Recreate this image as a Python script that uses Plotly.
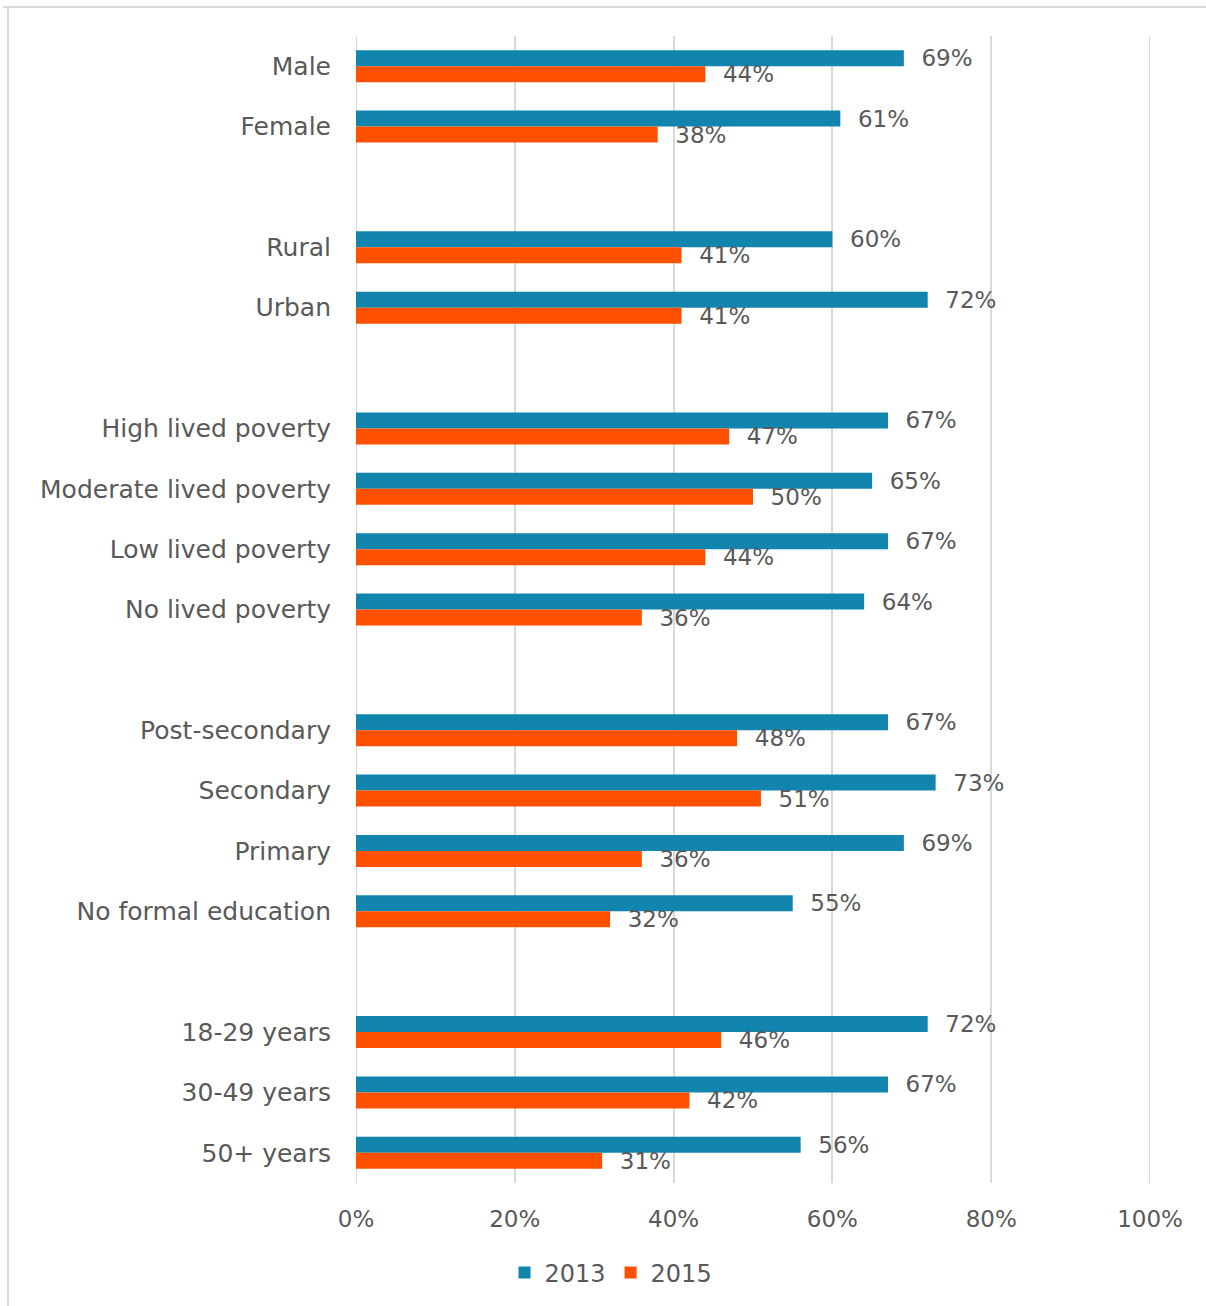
import plotly.graph_objects as go

groups = [
    ["Male", "Female"],
    ["Rural", "Urban"],
    ["High lived poverty", "Moderate lived poverty", "Low lived poverty", "No lived poverty"],
    ["Post-secondary", "Secondary", "Primary", "No formal education"],
    ["18-29 years", "30-49 years", "50+ years"],
]
vals_2013 = [
    [0.69, 0.61],
    [0.60, 0.72],
    [0.67, 0.65, 0.67, 0.64],
    [0.67, 0.73, 0.69, 0.55],
    [0.72, 0.67, 0.56],
]
vals_2015 = [
    [0.44, 0.38],
    [0.41, 0.41],
    [0.47, 0.50, 0.44, 0.36],
    [0.48, 0.51, 0.36, 0.32],
    [0.46, 0.42, 0.31],
]
tick_vals = [0, 0.2, 0.4, 0.6, 0.8, 1.0]
tick_text = ["0%", "20%", "40%", "60%", "80%", "100%"]

# build categorical axis with blank spacer rows between groups
cats, y13, y15 = [], [], []
for gi, (g, a, b) in enumerate(zip(groups, vals_2013, vals_2015)):
    if gi > 0:
        spacer = "\u200b" * gi
        cats.append(spacer)
        y13.append(None)
        y15.append(None)
    cats.extend(g)
    y13.extend(a)
    y15.extend(b)

def labels(vs):
    return ["\u00a0\u00a0" + f"{round(v*100)}%" if v is not None else "" for v in vs]

FONT = "DejaVu Sans ExtraLight, DejaVu Sans"
GRAY = "#595959"
GRID = "#d9d9d9"
BLUE = "#1185ad"
ORANGE = "#ff5000"

common = dict(orientation="h", textposition="outside", cliponaxis=False,
              constraintext="none",
              textfont=dict(size=23, color=GRAY, family=FONT))
fig = go.Figure()
fig.add_trace(go.Bar(y=cats, x=y13, name="2013", text=labels(y13),
                     marker=dict(color=BLUE, line=dict(width=0)), **common))
fig.add_trace(go.Bar(y=cats, x=y15, name="2015", text=labels(y15),
                     marker=dict(color=ORANGE, line=dict(width=0)), **common))

W, H = 1206, 1306
L, R, T, B = 356, 56, 36, 123
pw, ph = W - L - R, H - T - B

fig.update_layout(
    width=W, height=H,
    margin=dict(l=L, r=R, t=T, b=B, autoexpand=False),
    paper_bgcolor="white", plot_bgcolor="white",
    barmode="group", bargap=0.47, bargroupgap=0,
    font=dict(family=FONT, color=GRAY, size=24),
    showlegend=True,
    legend=dict(orientation="h", xref="paper", x=(611 - L) / pw, xanchor="center",
                yref="container", y=33 / H, yanchor="middle",
                font=dict(size=24, color=GRAY, family=FONT),
                itemwidth=30, traceorder="normal", tracegroupgap=0),
)
fig.update_xaxes(
    range=[0, 1.0], tickvals=tick_vals, ticktext=tick_text, tickangle=0,
    showgrid=True, gridcolor=GRID, gridwidth=2,
    zeroline=False, showline=False, automargin=False,
    tickfont=dict(size=23, color=GRAY, family=FONT),
    ticks="", ticklabelstandoff=20,
)
fig.update_yaxes(
    categoryorder="array", categoryarray=cats, autorange="reversed",
    showgrid=False, showline=False, zeroline=False, automargin=False,
    tickfont=dict(size=25, color=GRAY, family=FONT),
    ticks="", ticklabelstandoff=24,
)

# edge gridlines (0% and 100%) drawn below the bars
for tv in (tick_vals[0], tick_vals[-1]):
    fig.add_shape(type="line", xref="x", yref="paper", x0=tv, x1=tv, y0=0, y1=1,
                  line=dict(color=GRID, width=2), layer="below")

# chart border (light gray frame)
fig.add_shape(type="line", xref="paper", yref="paper",
              x0=(8 - L) / pw, x1=(8 - L) / pw, y0=(H - B - 1306) / ph, y1=(H - B - 7) / ph,
              line=dict(color=GRID, width=2))
fig.add_shape(type="line", xref="paper", yref="paper",
              x0=(3 - L) / pw, x1=(1206 - L) / pw, y0=(H - B - 7) / ph, y1=(H - B - 7) / ph,
              line=dict(color=GRID, width=2))

fig.write_html("out.html")
